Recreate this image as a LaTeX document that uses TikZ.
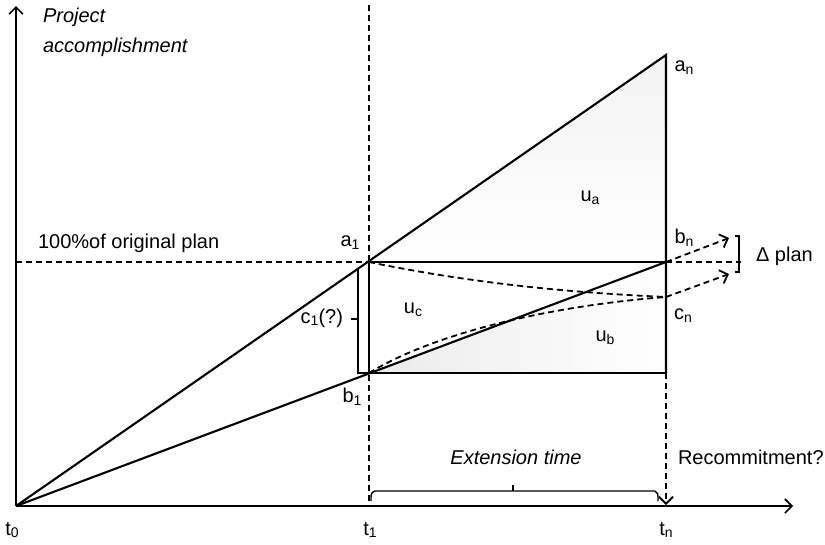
\documentclass[tikz,border=0pt]{standalone}
\usepackage{fontspec}
\setmainfont{Liberation Sans}
\usetikzlibrary{arrows.meta}
\newcommand\lsub[1]{\raisebox{-0.14em}{\fontsize{14}{14}\selectfont #1}}
\begin{document}
\begin{tikzpicture}[x=1pt,y=-1pt,line width=2.1pt,
  barb/.style={-{Straight Barb[length=7pt,width=14pt]}},
  dsh/.style={dash pattern=on 6pt off 4pt,line width=1.8pt},
  lbl/.style={inner sep=0pt,font=\fontsize{20}{24}\selectfont},
  ital/.style={lbl,font=\fontsize{20}{24}\selectfont\itshape}]
\useasboundingbox (0,0) rectangle (825,544);
% key points
\coordinate (t0) at (16,506);
\coordinate (ytop) at (16,6);
\coordinate (xend) at (793,506);
\coordinate (an) at (666,55);
\coordinate (a1) at (369,262);
\coordinate (b1) at (369,373);
\coordinate (bn) at (666,262);
\coordinate (cn) at (666,297);
\coordinate (br) at (666,373);
\coordinate (t1top) at (369,5);
\coordinate (t1bot) at (369,506);
\coordinate (tnbot) at (666,505);
\coordinate (planL) at (16,262);
\coordinate (planR) at (741,262);
\coordinate (dbn) at (729,238);
\coordinate (dcn) at (729,274);
% shading
\begin{scope}
\clip (a1) -- (an) -- (bn) -- cycle;
\shade[top color=gray!10,bottom color=white] (369,55) rectangle (666,262);
\end{scope}
\begin{scope}
\clip (b1) -- (bn) -- (br) -- cycle;
\shade[left color=gray!16,right color=white] (369,262) rectangle (666,373);
\end{scope}
% axes
\draw[barb,line width=1.6pt] (t0) -- (ytop);
\draw[barb,line width=1.6pt] (t0) -- (xend);
% dashed guides
\draw[dsh] (t1top) -- (t1bot);
\draw[dsh] (planL) -- (planR);
\draw[dsh,barb] (br) -- (tnbot);
% main lines
\draw (t0) -- (an) -- (br);
\draw (t0) -- (bn);
\draw (a1) rectangle (br);
% curves
\draw[dsh] (a1) .. controls (480,285) and (580,293) .. (cn);
\draw[dsh] (b1) .. controls (440,330) and (560,305) .. (cn);
% recommitment arrows
\draw[dsh,barb] (bn) -- (dbn);
\draw[dsh,barb] (cn) -- (dcn);
% delta bracket
\draw[line width=1.4pt] (735,236) -- (739,236) -- (739,272) -- (735,272);
% c1 bracket
\draw (358,268) -- (358,373) -- (b1);
\draw[line width=1.4pt] (351,319) -- (358,319);
% extension brace
\draw[line width=1.4pt] (371,501) .. controls (371,493) .. (375,491) -- (655,491) .. controls (658,493) .. (658,501);
\draw[line width=1.4pt] (513,491) -- (513,485);
% labels
\node[ital,anchor=base west] (lproj) at (42,22) {Project};
\node[ital,anchor=base west] (lacc) at (42,52) {accomplishment};
\node[lbl] (lan) at (684,68) {a\lsub{n}};
\node[lbl] (lua) at (590,198) {u\lsub{a}};
\node[lbl,anchor=west] (lplan) at (37,243) {100\%of original plan};
\node[lbl] (la1) at (350,243) {a\lsub{1}};
\node[lbl] (lbn) at (684,238) {b\lsub{n}};
\node[lbl,anchor=west] (ldelta) at (755,256) {Δ plan};
\node[lbl] (lcn) at (683,316) {c\lsub{n}};
\node[lbl] (luc) at (413,310) {u\lsub{c}};
\node[lbl] (lub) at (605,338) {u\lsub{b}};
\node[lbl,anchor=east] (lc1) at (344,318) {c\lsub{1}(?)};
\node[lbl] (lb1) at (352,397) {b\lsub{1}};
\node[ital] (lext) at (516,457) {Extension time};
\node[lbl,anchor=west] (lrec) at (677,457) {Recommitment?};
\node[lbl] (lt0) at (12,530) {t\lsub{0}};
\node[lbl] (lt1) at (370,530) {t\lsub{1}};
\node[lbl] (ltn) at (666,530) {t\lsub{n}};
\end{tikzpicture}
\end{document}
